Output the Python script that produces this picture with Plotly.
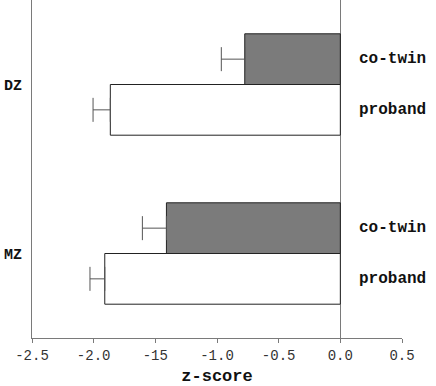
import plotly.graph_objects as go

groups = ["MZ", "DZ"]
group_pos = [0, 1]
proband = [-1.91, -1.865]
proband_err = [0.12, 0.14]
cotwin = [-1.41, -0.775]
cotwin_err = [0.195, 0.19]
series_names = ["proband", "co-twin"]
x_tickvals = [-2.5, -2.0, -1.5, -1.0, -0.5, 0.0, 0.5]
x_ticktext = ["-2.5", "-2.0", "-15", "-1.0", "-0.5", "0.0", "0.5"]

MONO = "Liberation Mono, Courier New, monospace"
AX = "#7a7a7a"

fig = go.Figure()
fig.add_trace(go.Bar(
    y=group_pos, x=proband, orientation="h", name=series_names[0],
    marker=dict(color="white", line=dict(color="#222222", width=1)),
    error_x=dict(type="data", symmetric=False, array=[0, 0], arrayminus=proband_err,
                 color="#555555", thickness=1, width=12),
))
fig.add_trace(go.Bar(
    y=group_pos, x=cotwin, orientation="h", name=series_names[1],
    marker=dict(color="#7b7b7b", line=dict(color="#222222", width=1)),
    error_x=dict(type="data", symmetric=False, array=[0, 0], arrayminus=cotwin_err,
                 color="#555555", thickness=1, width=12),
))

annotations = []
for p in group_pos:
    for name, off in zip(series_names, [-0.15, 0.15]):
        annotations.append(dict(
            x=0.135, y=p + off, xref="x", yref="y", text=name, showarrow=False,
            xanchor="left", yanchor="middle",
            font=dict(family=MONO, size=16, color="#111111", weight="bold"),
        ))

fig.update_layout(
    width=436, height=386,
    margin=dict(l=32, r=34, t=0, b=48),
    paper_bgcolor="white", plot_bgcolor="white",
    barmode="group", bargap=0.4, bargroupgap=0,
    showlegend=False,
    annotations=annotations,
    xaxis=dict(
        range=[-2.5, 0.5], tickvals=x_tickvals, ticktext=x_ticktext,
        automargin=False,
        showgrid=False, zeroline=True, zerolinecolor=AX, zerolinewidth=1,
        showline=True, linecolor=AX, linewidth=1,
        ticks="outside", ticklen=4, tickcolor=AX,
        tickfont=dict(family=MONO, size=14, color="#333333"),
        title=dict(text="z-score", standoff=6,
                   font=dict(family=MONO, size=17, color="#111111", weight="bold")),
    ),
    yaxis=dict(
        range=[-0.5, 1.5], tickvals=group_pos, ticktext=groups,
        automargin=False,
        showgrid=False, zeroline=False,
        showline=True, linecolor=AX, linewidth=1, ticks="",
        tickfont=dict(family=MONO, size=15, color="#111111", weight="bold"),
        ticklabelstandoff=6,
    ),
)

fig.write_html(
    "out.html",
    config={"displayModeBar": False},
    post_script="document.body.style.margin='0';document.body.style.overflow='hidden';",
)
